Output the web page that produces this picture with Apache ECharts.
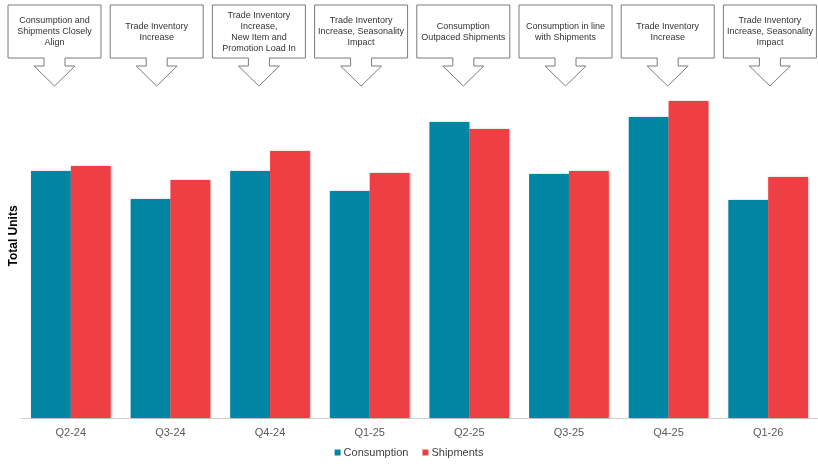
<!DOCTYPE html>
<html>
<head>
<meta charset="utf-8">
<script src="https://cdn.jsdelivr.net/npm/echarts@6/dist/echarts.min.js"></script>
<style>
  html, body { margin: 0; padding: 0; background: #fff; }
  #chart { width: 818px; height: 466px; }
</style>
</head>
<body>
<div id="chart"></div>
<script>
// quarters on the x axis
const quarters = ["Q2-24", "Q3-24", "Q4-24", "Q1-25", "Q2-25", "Q3-25", "Q4-25", "Q1-26"];
// (relative units, no y scale shown)
const consumption = [247, 219, 247, 227, 296, 244, 301, 218];
const shipments = [252, 238, 267, 245, 289, 247, 317, 241];
// callout notes above each quarter
const notes = [
  "Consumption and\nShipments Closely\nAlign",
  "Trade Inventory\nIncrease",
  "Trade Inventory\nIncrease,\nNew Item and\nPromotion Load In",
  "Trade Inventory\nIncrease, Seasonality\nImpact",
  "Consumption\nOutpaced Shipments",
  "Consumption in line\nwith Shipments",
  "Trade Inventory\nIncrease",
  "Trade Inventory\nIncrease, Seasonality\nImpact"
];

const FONT = "Liberation Sans, Arial, sans-serif";

// down-arrow callout shape, relative to the box's top-left corner
const calloutShape = (w, h) => {
  const c = w / 2;
  return [
    [0, 0], [w, 0], [w, h],
    [c + 10.5, h], [c + 10.5, h + 8], [c + 20.5, h + 8],
    [c, h + 28],
    [c - 20.5, h + 8], [c - 10.5, h + 8], [c - 10.5, h],
    [0, h]
  ];
};

const callouts = notes.map((txt, i) => {
  const left = 8 + i * 102.2;
  const w = 93, h = 53;
  return {
    type: "group",
    x: left,
    y: 5,
    children: [
      {
        type: "polygon",
        shape: { points: calloutShape(w, h) },
        style: { fill: "#fff", stroke: "#7a7a7a", lineWidth: 1 }
      },
      {
        type: "text",
        x: w / 2,
        y: h / 2 + 0.5,
        style: {
          text: txt,
          font: "9px " + FONT,
          fill: "#333",
          align: "center",
          verticalAlign: "middle",
          lineHeight: 11
        }
      }
    ]
  };
});

const chart = echarts.init(document.getElementById("chart"));
chart.setOption({
  animation: false,
  color: ["#0086A3", "#EE3F44"],
  textStyle: { fontFamily: FONT },
  grid: { left: 21, right: 0, top: 98, bottom: 48, containLabel: false, outerBoundsMode: "none" },
  legend: {
    bottom: 3,
    left: "center",
    itemWidth: 6,
    itemHeight: 6,
    itemGap: 14,
    icon: "rect",
    textStyle: { fontSize: 11, color: "#404040", fontFamily: FONT, padding: [0, 0, 0, -2] },
    data: ["Consumption", "Shipments"]
  },
  xAxis: {
    type: "category",
    data: quarters,
    axisLine: { lineStyle: { color: "#d0d0d0", width: 1 } },
    axisTick: { show: false },
    axisLabel: { color: "#595959", fontSize: 11, margin: 9, fontFamily: FONT }
  },
  yAxis: {
    type: "value",
    min: 0,
    max: 320,
    name: "Total Units",
    nameLocation: "middle",
    nameGap: 1,
    nameTextStyle: {
      fontSize: 12, fontWeight: "bold", color: "#000", fontFamily: FONT,
      padding: [0, 0, 0, 44]
    },
    axisLine: { show: false },
    axisTick: { show: false },
    axisLabel: { show: false },
    splitLine: { show: false }
  },
  series: [
    {
      name: "Consumption",
      type: "bar",
      data: consumption,
      barGap: "0%",
      barCategoryGap: "20%",
      itemStyle: { shadowBlur: 2, shadowColor: "rgba(0,0,0,0.25)", shadowOffsetX: 1 }
    },
    {
      name: "Shipments",
      type: "bar",
      data: shipments,
      itemStyle: { shadowBlur: 2, shadowColor: "rgba(0,0,0,0.25)", shadowOffsetX: 1 }
    }
  ],
  graphic: callouts
});
</script>
</body>
</html>
